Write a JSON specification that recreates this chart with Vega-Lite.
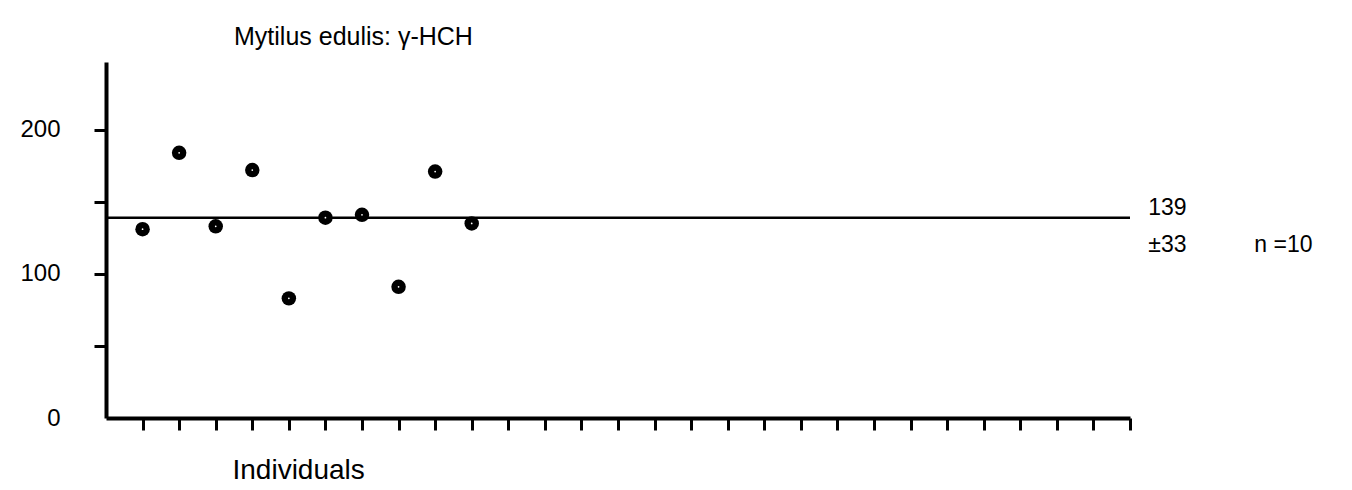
{
  "$schema": "https://vega.github.io/schema/vega-lite/v6.json",
  "autosize": {"type": "none"},
  "width": 1024,
  "height": 356,
  "padding": {"left": 106, "top": 62, "right": 222, "bottom": 72},
  "background": "white",
  "config": {"view": {"stroke": null}, "font": "Liberation Sans"},
  "title": {
    "text": "Mytilus edulis: γ-HCH",
    "anchor": "start",
    "frame": "group",
    "dx": 128,
    "offset": -8,
    "baseline": "alphabetic",
    "fontSize": 25,
    "fontWeight": "normal",
    "font": "Liberation Sans",
    "color": "black"
  },
  "datasets": {
    "points": [
      {"individual": 1, "value": 131},
      {"individual": 2, "value": 184},
      {"individual": 3, "value": 133},
      {"individual": 4, "value": 172},
      {"individual": 5, "value": 83},
      {"individual": 6, "value": 139},
      {"individual": 7, "value": 141},
      {"individual": 8, "value": 91},
      {"individual": 9, "value": 171},
      {"individual": 10, "value": 135}
    ],
    "mean": [{"mean": 139}],
    "notes": [
      {"label": "139", "x": 28.5, "y": 146},
      {"label": "±33", "x": 28.5, "y": 120},
      {"label": "n =10", "x": 31.4, "y": 120}
    ]
  },
  "layer": [
    {
      "data": {"name": "mean"},
      "mark": {"type": "rule", "color": "black", "strokeWidth": 2.5},
      "encoding": {
        "y": {"field": "mean", "type": "quantitative", "scale": {"domain": [0, 247], "nice": false}}
      }
    },
    {
      "data": {"name": "points"},
      "mark": {"type": "point", "filled": true, "color": "black", "size": 210, "opacity": 1},
      "encoding": {
        "x": {
          "field": "individual",
          "type": "quantitative",
          "scale": {"domain": [0, 28], "nice": false, "zero": true},
          "axis": {
            "values": [1,2,3,4,5,6,7,8,9,10,11,12,13,14,15,16,17,18,19,20,21,22,23,24,25,26,27,28],
            "tickCount": 40,
            "labels": false,
            "grid": false,
            "title": "Individuals",
            "titleAnchor": "start",
            "titleX": 126,
            "titleY": 60,
            "titleBaseline": "alphabetic",
            "titleFontSize": 28,
            "titleFontWeight": "normal",
            "titleColor": "black",
            "domainColor": "black",
            "domainWidth": 4,
            "tickColor": "black",
            "tickWidth": 3,
            "tickSize": 12
          }
        },
        "y": {
          "field": "value",
          "type": "quantitative",
          "scale": {"domain": [0, 247], "nice": false},
          "axis": {
            "values": [0, 50, 100, 150, 200],
            "tickCount": 10,
            "labelExpr": "datum.value % 100 == 0 ? datum.label : ''",
            "title": null,
            "grid": false,
            "labelFlush": false,
            "labelOverlap": false,
            "labelFontSize": 24,
            "labelColor": "black",
            "labelPadding": 34,
            "domainColor": "black",
            "domainWidth": 4,
            "tickColor": "black",
            "tickWidth": 3,
            "tickSize": 12,
            "tickOpacity": {"condition": {"test": "datum.value == 0", "value": 0}, "value": 1}
          }
        }
      }
    },
    {
      "data": {"name": "points"},
      "mark": {"type": "point", "filled": true, "color": "white", "size": 3, "opacity": 1},
      "encoding": {
        "x": {"field": "individual", "type": "quantitative"},
        "y": {"field": "value", "type": "quantitative"}
      }
    },
    {
      "data": {"name": "notes"},
      "mark": {"type": "text", "align": "left", "baseline": "middle", "fontSize": 23, "color": "black", "clip": false},
      "encoding": {
        "x": {"field": "x", "type": "quantitative"},
        "y": {"field": "y", "type": "quantitative"},
        "text": {"field": "label"}
      }
    }
  ]
}
